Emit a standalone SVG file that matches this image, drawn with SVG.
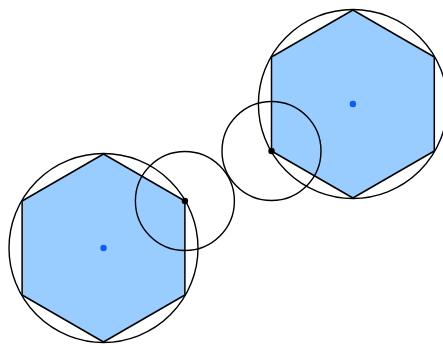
<svg xmlns="http://www.w3.org/2000/svg" width="443" height="344" viewBox="0 0 443 344">
<style>
.hex{fill:#99ccff;stroke:#000;stroke-width:1.5;stroke-linejoin:round}
.circ{fill:none;stroke:#000;stroke-width:1.4}
.ctr{fill:#0a5cff}
.pt{fill:#000}
</style>
<rect width="443" height="344" fill="#fff"/>
<g id="hexagon-left">
<polygon class="hex" points="103.5,154 184.9,201 184.9,295 103.5,342 22.1,295 22.1,201"/>
<circle class="circ" cx="103.5" cy="248" r="94.5"/>
<circle class="ctr" cx="103.5" cy="248" r="3.2"/>
</g>
<g id="hexagon-right">
<polygon class="hex" points="352.9,10 434.3,57 434.3,151 352.9,198 271.5,151 271.5,57"/>
<circle class="circ" cx="352.9" cy="104" r="94.5"/>
<circle class="ctr" cx="352.9" cy="104" r="3.2"/>
</g>
<g id="circle-left">
<circle class="circ" cx="184.9" cy="201" r="49.5"/>
<circle class="pt" cx="184.9" cy="201" r="3.2"/>
</g>
<g id="circle-right">
<circle class="circ" cx="271.5" cy="151" r="49.5"/>
<circle class="pt" cx="271.5" cy="151" r="3.2"/>
</g>
<g id="connectors"></g>
</svg>
